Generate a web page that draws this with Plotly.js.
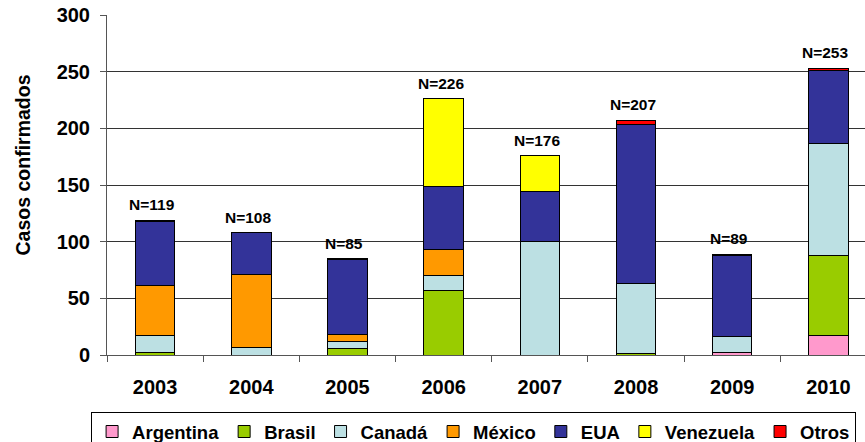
<!DOCTYPE html>
<html>
<head>
<meta charset="utf-8">
<script src="https://cdn.plot.ly/plotly-3.0.1.min.js"></script>
<style>html,body{margin:0;padding:0;background:#fff;overflow:hidden;}#chart{width:865px;height:462px;}</style>
</head>
<body>
<div id="chart"></div>
<script>
const years = ['2003','2004','2005','2006','2007','2008','2009','2010'];
const argentina = [0, 0, 0, 0, 0, 0, 2, 17];
const brasil    = [2, 0, 6, 57, 0, 1, 0, 71];
const canada    = [15, 7, 6, 13, 100, 62, 14, 99];
const mexico    = [44, 64, 6, 23, 0, 0, 0, 0];
const eua       = [57, 37, 66, 56, 44, 140, 72, 64];
const venezuela = [0, 0, 0, 77, 32, 0, 0, 0];
const otros     = [1, 0, 1, 0, 0, 4, 1, 2];
const nLabels   = ['N=119','N=108','N=85','N=226','N=176','N=207','N=89','N=253'];

const seriesNames = ['Argentina','Brasil','Canadá','México','EUA','Venezuela','Otros'];
const seriesData = [argentina, brasil, canada, mexico, eua, venezuela, otros];
const colors = ['#FF99CC','#99CC00','#BCE0E3','#FF9900','#333399','#FFFF00','#FF0000'];

const FONT = 'Liberation Sans, Arial, sans-serif';

const traces = seriesNames.map((name, i) => ({
  type: 'bar',
  name: name,
  x: years,
  y: seriesData[i],
  marker: {color: colors[i], line: {color: '#000', width: 1}},
  hoverinfo: 'skip'
}));

const totals = years.map((_, j) => seriesData.reduce((s, arr) => s + arr[j], 0));

const annotations = years.map((yr, j) => ({
  x: j, y: totals[j], xref: 'x', yref: 'y',
  text: nLabels[j], showarrow: false,
  yanchor: 'bottom', yshift: 5, xshift: -3,
  font: {family: FONT, size: 15.5, color: '#000', weight: 700}
}));
annotations.push({
  xref: 'paper', yref: 'paper', x: -0.111, y: 0.56,
  xanchor: 'center', yanchor: 'middle', textangle: -90,
  text: 'Casos confirmados', showarrow: false,
  font: {family: FONT, size: 19.5, color: '#000', weight: 700}
});

const layout = {
  width: 865, height: 462,
  margin: {l: 107, r: 0, t: 15, b: 107},
  paper_bgcolor: '#fff', plot_bgcolor: '#fff',
  barmode: 'stack', bargap: 0.59,
  showlegend: true,
  legend: {
    orientation: 'h', traceorder: 'normal',
    x: -0.021, xanchor: 'left', y: -0.1676, yanchor: 'top',
    bordercolor: '#000', borderwidth: 1, bgcolor: '#fff',
    font: {family: FONT, size: 18.5, color: '#000', weight: 700},
    itemwidth: 30
  },
  xaxis: {
    type: 'category', range: [-0.5, 7.38],
    showline: true, linecolor: '#555', linewidth: 1,
    ticks: 'outside', tickson: 'boundaries', ticklen: 6, tickcolor: '#555',
    ticklabelstandoff: 14,
    tickfont: {family: FONT, size: 20, color: '#000', weight: 700},
    showgrid: false, fixedrange: true
  },
  yaxis: {
    range: [0, 300], tickvals: [0, 50, 100, 150, 200, 250, 300],
    showline: true, linecolor: '#555', linewidth: 1,
    ticks: 'outside', ticklen: 6, tickcolor: '#555',
    ticklabelstandoff: 6,
    tickfont: {family: FONT, size: 20, color: '#000', weight: 700},
    showgrid: true, gridcolor: '#333', gridwidth: 1,
    zeroline: false, fixedrange: true
  },
  annotations: annotations
};

Plotly.newPlot('chart', traces, layout, {displayModeBar: false, staticPlot: true});
</script>
</body>
</html>
